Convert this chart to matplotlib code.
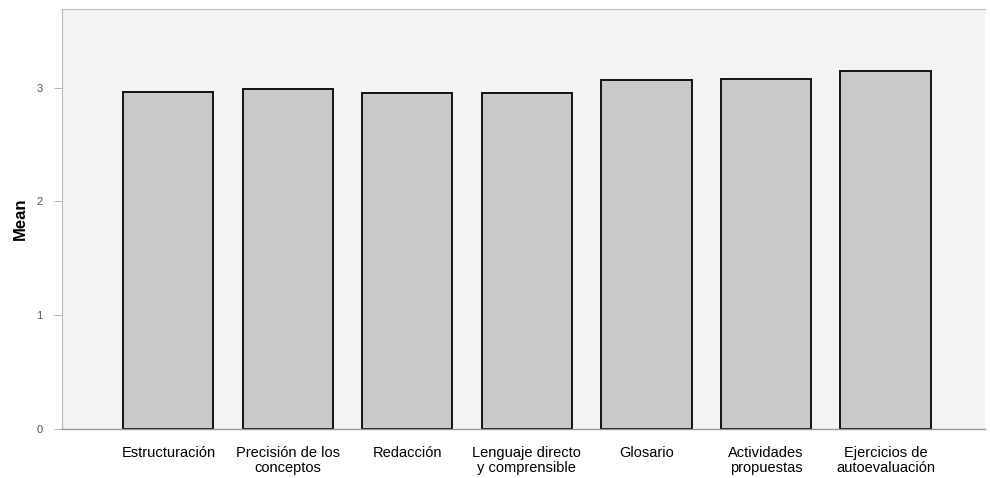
import matplotlib.pyplot as plt

plt.rcParams.update({'font.family': ['Liberation Sans', 'DejaVu Sans']})

categories = ["Estructuración", "Precisión de los\nconceptos", "Redacción",
              "Lenguaje directo\ny comprensible", "Glosario",
              "Actividades\npropuestas", "Ejercicios de\nautoevaluación"]
means = [2.96, 2.99, 2.95, 2.95, 3.07, 3.08, 3.15]

fig = plt.figure(figsize=(9.9, 4.78), dpi=100)
ax = fig.add_axes([0.0626, 0.1025, 0.932, 0.8785])
ax.set_facecolor('#f3f3f3')

x = list(range(len(categories)))
ax.bar(x, means, width=0.755, color='#c9c9c9', edgecolor='#111111', linewidth=1.4, zorder=2)

ax.set_xlim(-0.89, 6.83)
ax.set_ylim(0, 3.69)
ax.set_yticks([0, 1, 2, 3])
ax.set_yticklabels(['0', '1', '2', '3'], fontsize=8, color='#555555')
ax.set_xticks(x)
ax.set_xticklabels(categories, fontsize=10.5, linespacing=1.12)
ax.tick_params(axis='x', length=0, pad=12)
ax.tick_params(axis='y', length=6, width=0.6, color='#aaaaaa', pad=8)
# condensed bold label, like the narrow font in the reference
ax.set_ylabel("Mean", fontsize=12, fontweight='bold', fontstretch='condensed', labelpad=6)

for side in ['left', 'top']:
    ax.spines[side].set_color('#bbbbbb')
    ax.spines[side].set_linewidth(0.8)
ax.spines['right'].set_visible(False)
ax.spines['bottom'].set_color('#999999')
ax.spines['bottom'].set_linewidth(1.0)

plt.savefig("out.png", dpi=100)
